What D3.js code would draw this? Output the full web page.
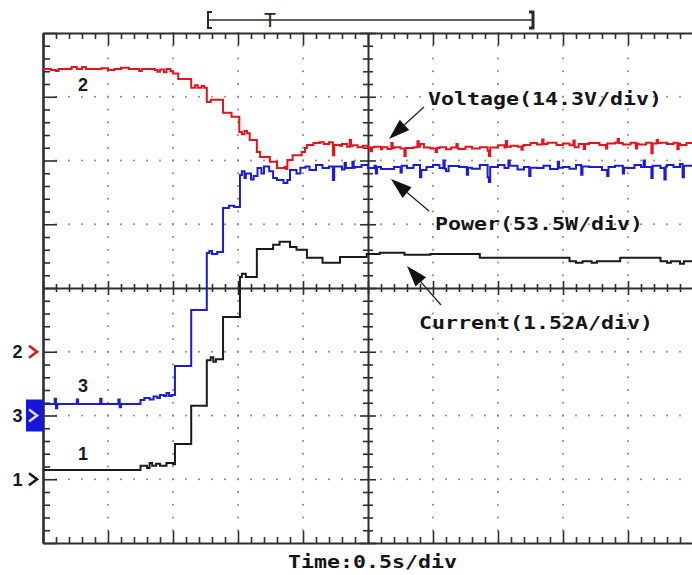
<!DOCTYPE html>
<html>
<head>
<meta charset="utf-8">
<script src="https://cdn.jsdelivr.net/npm/d3@7"></script>
<style>
  html, body { margin: 0; padding: 0; background: #fff; }
  svg { display: block; }
  .mono { font-family: "DejaVu Sans Mono", monospace; font-weight: bold; font-size: 18px; fill: #151515; }
  .digit { font-family: "Liberation Sans", Arial, sans-serif; font-weight: bold; font-size: 18px; fill: #1a1a1a; }
</style>
</head>
<body>
<svg id="scope" width="692" height="575"></svg>
<script>
// ---- Recorded traces: [time (s), value] ----
const voltage = [ // V, channel 2
  [0, 63.4], [0.06, 63.2], [0.1, 63.0], [0.12, 63.4], [0.22, 63.9], [0.26, 63.4], [0.3, 63.9],
  [0.33, 63.4], [0.45, 63.6], [0.5, 63.2], [0.55, 63.4], [0.6, 63.7], [0.66, 63.4], [0.74, 63.0],
  [0.76, 63.4], [0.86, 63.2], [0.88, 62.8], [0.9, 63.3], [0.93, 62.7], [0.95, 63.4], [0.98, 62.9],
  [1.0, 62.4], [1.04, 61.2], [1.14, 59.2], [1.17, 59.8], [1.19, 59.2], [1.22, 59.6], [1.24, 59.2],
  [1.26, 56.0], [1.29, 56.5], [1.385, 53.6], [1.45, 52.7], [1.51, 49.3], [1.53, 48.8], [1.55, 49.5],
  [1.57, 49.0], [1.59, 47.5], [1.645, 44.8], [1.67, 43.7], [1.745, 42.6], [1.8, 41.2], [1.86, 41.5],
  [1.87, 41.0], [1.88, 43.0], [1.92, 44.1], [1.99, 44.8], [2.015, 45.7], [2.03, 46.4], [2.08, 46.8],
  [2.13, 47.0], [2.16, 46.6], [2.2, 47.0], [2.23, 44.1], [2.24, 46.4], [2.285, 46.2], [2.3, 46.6],
  [2.34, 46.0], [2.36, 47.5], [2.37, 46.1], [2.38, 46.3], [2.42, 45.9], [2.46, 46.2], [2.5, 45.8],
  [2.52, 45.0], [2.53, 45.9], [2.55, 46.0], [2.6, 45.4], [2.61, 45.9], [2.65, 45.5], [2.68, 46.8],
  [2.69, 45.7], [2.7, 45.9], [2.75, 45.6], [2.78, 43.9], [2.79, 45.7], [2.85, 45.9], [2.88, 47.2],
  [2.89, 46.0], [2.9, 46.6], [2.93, 45.8], [2.98, 45.6], [3.02, 44.8], [3.03, 45.7], [3.05, 45.9],
  [3.1, 45.4], [3.14, 45.8], [3.18, 46.6], [3.19, 45.6], [3.2, 45.5], [3.25, 46.0], [3.3, 45.6],
  [3.36, 45.9], [3.42, 45.1], [3.43, 43.9], [3.44, 45.8], [3.5, 46.3], [3.55, 45.8], [3.56, 47.3],
  [3.57, 46.0], [3.6, 46.2], [3.65, 46.0], [3.68, 45.3], [3.69, 46.2], [3.7, 46.4], [3.75, 46.8],
  [3.8, 46.5], [3.84, 47.6], [3.85, 46.6], [3.88, 46.9], [3.95, 46.4], [4.0, 46.7], [4.05, 46.3],
  [4.08, 47.4], [4.09, 45.9], [4.12, 46.6], [4.16, 45.5], [4.17, 46.6], [4.2, 46.8], [4.28, 46.4],
  [4.33, 45.6], [4.34, 46.7], [4.4, 46.9], [4.42, 47.7], [4.43, 46.8], [4.46, 46.5], [4.52, 46.9],
  [4.56, 45.6], [4.57, 46.7], [4.58, 46.5], [4.64, 46.9], [4.68, 44.5], [4.69, 46.7], [4.72, 47.5],
  [4.73, 46.8], [4.75, 46.9], [4.8, 46.6], [4.85, 46.9], [4.88, 45.4], [4.89, 46.7], [4.9, 46.4],
  [4.95, 46.8], [5.0, 46.7]
];

const power = [ // W, channel 3
  [0, 9.7], [0.09, 14.0], [0.1, 6.0], [0.11, 9.7], [0.26, 13.5], [0.27, 9.7], [0.44, 14.0],
  [0.45, 9.7], [0.58, 13.5], [0.59, 7.0], [0.6, 9.7], [0.75, 13.0], [0.78, 14.7], [0.82, 13.5],
  [0.85, 16.0], [0.88, 14.7], [0.9, 17.2], [0.93, 16.4], [0.95, 18.9], [0.97, 16.4], [0.99, 17.2],
  [1.015, 41.5], [1.14, 88.5], [1.26, 136.4], [1.28, 138.0], [1.3, 135.5], [1.34, 137.2],
  [1.385, 174.1], [1.43, 176.0], [1.47, 175.0], [1.515, 201.8], [1.53, 205.0], [1.55, 199.3],
  [1.56, 203.0], [1.6, 198.0], [1.62, 201.0], [1.65, 207.7], [1.68, 203.0], [1.7, 209.0],
  [1.74, 205.0], [1.77, 199.3], [1.8, 197.6], [1.85, 195.1], [1.88, 197.6], [1.9, 206.0],
  [1.95, 203.0], [1.98, 208.0], [2.02, 209.0], [2.05, 206.0], [2.1, 210.2], [2.15, 207.7],
  [2.2, 209.0], [2.23, 197.6], [2.24, 209.0], [2.3, 206.5], [2.32, 212.0], [2.33, 207.7],
  [2.38, 213.0], [2.39, 208.0], [2.4, 208.5], [2.45, 210.2], [2.5, 207.7], [2.55, 209.5],
  [2.56, 203.0], [2.57, 208.5], [2.6, 206.9], [2.7, 208.5], [2.75, 204.0], [2.76, 209.5],
  [2.8, 207.7], [2.85, 210.2], [2.9, 200.0], [2.91, 206.0], [2.95, 208.5], [3.0, 210.2],
  [3.05, 207.7], [3.08, 214.0], [3.09, 207.0], [3.1, 205.0], [3.12, 209.3], [3.2, 208.5],
  [3.26, 202.0], [3.27, 208.0], [3.3, 207.0], [3.36, 210.2], [3.42, 200.0], [3.43, 196.0],
  [3.44, 208.5], [3.5, 210.2], [3.55, 207.7], [3.58, 214.0], [3.59, 209.5], [3.65, 206.5],
  [3.7, 208.5], [3.74, 201.0], [3.75, 208.0], [3.8, 207.7], [3.85, 209.5], [3.9, 206.9],
  [3.96, 213.0], [3.97, 208.0], [4.0, 208.5], [4.05, 207.0], [4.1, 210.2], [4.14, 202.0],
  [4.15, 209.0], [4.2, 208.5], [4.3, 206.0], [4.34, 201.0], [4.35, 208.5], [4.4, 209.5],
  [4.46, 203.0], [4.47, 208.0], [4.5, 207.7], [4.55, 210.2], [4.6, 208.5], [4.62, 214.0],
  [4.63, 208.5], [4.68, 199.3], [4.69, 209.5], [4.75, 207.7], [4.78, 198.0], [4.79, 209.0],
  [4.8, 210.2], [4.85, 208.5], [4.9, 211.0], [4.92, 200.0], [4.93, 209.5], [5.0, 210.2]
];

const current = [ // A, channel 1
  [0, 0.22], [0.74, 0.22], [0.75, 0.32], [0.8, 0.27], [0.82, 0.39], [0.84, 0.32], [0.87, 0.37],
  [0.9, 0.32], [0.95, 0.39], [1.0, 0.36], [1.015, 0.84], [1.14, 1.75], [1.26, 2.84], [1.29, 2.91],
  [1.31, 2.80], [1.33, 2.86], [1.385, 3.87], [1.515, 4.82], [1.53, 4.90], [1.56, 4.82],
  [1.645, 5.49], [1.77, 5.59], [1.82, 5.66], [1.9, 5.54], [1.95, 5.47], [2.03, 5.28],
  [2.15, 5.16], [2.285, 5.30], [2.49, 5.37], [2.59, 5.40], [2.78, 5.35], [2.98, 5.37],
  [3.36, 5.28], [4.05, 5.20], [4.1, 5.16], [4.15, 5.20], [4.22, 5.16], [4.26, 5.20],
  [4.44, 5.28], [4.75, 5.20], [4.8, 5.16], [4.83, 5.20], [4.9, 5.14], [4.93, 5.20], [5.0, 5.20]
];

// ---- Channel settings ----
const channelIds   = ["1", "2", "3"];
const channelUnits = [1.52, 14.3, 53.5];   // A/div, V/div, W/div
const channelZero  = [1, 3, 2];            // ground reference, divisions from bottom
const channelColor = ["#1a1a1a", "#e3141c", "#1c1cd6"];

const annotationTexts = ["Voltage(14.3V/div)", "Power(53.5W/div)", "Current(1.52A/div)"];
const timeLabel = "Time:0.5s/div";
const triggerMark = "T";

// ---- Frame geometry ----
const plotLeft = 43, plotTop = 33, plotW = 650, plotH = 510;
const xDivs = 10, yDivs = 8, minorPerDiv = 5, secPerDiv = 0.5;

const svg = d3.select("#scope");

const x = d3.scaleLinear().domain([0, xDivs * secPerDiv]).range([plotLeft, plotLeft + plotW]);
const xd = d3.scaleLinear().domain([0, xDivs]).range([plotLeft, plotLeft + plotW]);
const yd = d3.scaleLinear().domain([0, yDivs]).range([plotTop + plotH, plotTop]);

svg.append("defs").append("clipPath").attr("id", "plotClip")
  .append("rect").attr("x", plotLeft).attr("y", plotTop - 2).attr("width", plotW).attr("height", plotH + 4);

// ---- dotted graticule ----
const minorX = d3.range(0, xDivs * minorPerDiv + 1).map(i => i / minorPerDiv);
const minorY = d3.range(0, yDivs * minorPerDiv + 1).map(i => i / minorPerDiv);
const majorX = d3.range(1, xDivs).filter(d => d !== xDivs / 2);
const majorY = d3.range(1, yDivs).filter(d => d !== yDivs / 2);

const dots = [];
majorX.forEach(k => minorY.forEach(v => dots.push([xd(k), yd(v)])));
majorY.forEach(k => minorX.forEach(v => dots.push([xd(v), yd(k)])));
svg.append("g").attr("clip-path", "url(#plotClip)")
  .selectAll("rect").data(dots).join("rect")
  .attr("x", d => d[0] - 0.9).attr("y", d => d[1] - 0.9)
  .attr("width", 1.8).attr("height", 1.8).attr("fill", "#8c8c8c");

// ---- border and centre axes with tick marks ----
const minorTicksX = minorX.filter(v => v % 1 !== 0);
const majorTicksX = d3.range(0, xDivs + 1);
const minorTicksY = minorY.filter(v => v % 1 !== 0);
const majorTicksY = d3.range(0, yDivs + 1);

function addAxis(axisFn, scale, values, size, transform, domainWidth) {
  const g = svg.append("g").attr("transform", transform)
    .call(axisFn(scale).tickValues(values).tickSize(size).tickSizeOuter(0).tickFormat(""));
  g.selectAll("text").remove();
  g.selectAll(".tick line").attr("stroke", "#2e2e2e").attr("stroke-width", 1.6);
  if (domainWidth) {
    g.select("path.domain").attr("stroke", "#2e2e2e").attr("stroke-width", domainWidth);
  } else {
    g.select("path.domain").remove();
  }
  return g;
}
// top border (ticks inward)
addAxis(d3.axisBottom, xd, minorTicksX, 6, `translate(0,${plotTop})`, 2.2);
addAxis(d3.axisBottom, xd, majorTicksX, 12, `translate(0,${plotTop})`, 0);
// bottom border
addAxis(d3.axisTop, xd, minorTicksX, 6, `translate(0,${plotTop + plotH})`, 2.2);
addAxis(d3.axisTop, xd, majorTicksX, 12, `translate(0,${plotTop + plotH})`, 0);
// left border
addAxis(d3.axisRight, yd, minorTicksY, 7, `translate(${plotLeft},0)`, 2.6);
addAxis(d3.axisRight, yd, majorTicksY, 14, `translate(${plotLeft},0)`, 0);
// centre vertical axis
const cx = xd(xDivs / 2), cy = yd(yDivs / 2);
addAxis(d3.axisRight, yd, minorTicksY, 5, `translate(${cx},0)`, 2);
addAxis(d3.axisLeft, yd, minorTicksY, 5, `translate(${cx},0)`, 0);
addAxis(d3.axisRight, yd, majorTicksY, 8, `translate(${cx},0)`, 0);
addAxis(d3.axisLeft, yd, majorTicksY, 8, `translate(${cx},0)`, 0);
// centre horizontal axis
addAxis(d3.axisBottom, xd, minorTicksX, 4, `translate(0,${cy})`, 2);
addAxis(d3.axisTop, xd, minorTicksX, 4, `translate(0,${cy})`, 0);
addAxis(d3.axisBottom, xd, majorTicksX, 7, `translate(0,${cy})`, 0);
addAxis(d3.axisTop, xd, majorTicksX, 7, `translate(0,${cy})`, 0);

// ---- traces ----
const series = [current, voltage, power];
const drawOrder = [0, 2, 1];
const traceG = svg.append("g").attr("clip-path", "url(#plotClip)");
drawOrder.forEach(i => {
  const line = d3.line()
    .x(d => x(d[0]))
    .y(d => yd(channelZero[i] + d[1] / channelUnits[i]))
    .curve(d3.curveStepAfter);
  traceG.append("path").datum(series[i])
    .attr("d", line).attr("fill", "none")
    .attr("stroke", channelColor[i]).attr("stroke-width", 2)
    .attr("stroke-linejoin", "miter");
});

// ---- trace numbers inside the screen ----
const traceNumberPos = [[83, 460], [83, 91], [83, 392]];
channelIds.forEach((id, i) => {
  svg.append("text").attr("class", "digit")
    .attr("x", traceNumberPos[i][0]).attr("y", traceNumberPos[i][1])
    .attr("text-anchor", "middle").text(id);
});

// ---- ground reference markers on the left ----
channelIds.forEach((id, i) => {
  const gy = yd(channelZero[i]);
  svg.append("text").attr("class", "digit")
    .attr("x", 17.5).attr("y", gy + 6.5).attr("text-anchor", "middle").text(id);
  let chevronColor = i === 1 ? channelColor[1] : "#1a1a1a";
  if (i === 2) {
    svg.append("rect").attr("x", 26).attr("y", gy - 16).attr("width", 17).attr("height", 32)
      .attr("fill", "#1414dc");
    chevronColor = "#d8dcff";
  }
  svg.append("path")
    .attr("d", `M29,${gy - 6} L37,${gy} L29,${gy + 6}`)
    .attr("fill", "none").attr("stroke", chevronColor).attr("stroke-width", 2.6);
});

// ---- annotations with arrows ----
function arrow(tail, tip) {
  const ang = Math.atan2(tip[1] - tail[1], tip[0] - tail[0]);
  const len = 21, half = 7;
  const bx = tip[0] - len * Math.cos(ang), by = tip[1] - len * Math.sin(ang);
  const px = -Math.sin(ang) * half, py = Math.cos(ang) * half;
  svg.append("line").attr("x1", tail[0]).attr("y1", tail[1]).attr("x2", bx).attr("y2", by)
    .attr("stroke", "#222").attr("stroke-width", 1.3);
  svg.append("path")
    .attr("d", `M${tip[0]},${tip[1]} L${bx + px},${by + py} L${bx - px},${by - py} Z`)
    .attr("fill", "#111");
}
const annoBox = [[428, 105, 234], [435, 230, 208], [419, 329, 234]];
annotationTexts.forEach((t, i) => {
  svg.append("text").attr("class", "mono")
    .attr("x", annoBox[i][0]).attr("y", annoBox[i][1])
    .attr("textLength", annoBox[i][2]).attr("lengthAdjust", "spacingAndGlyphs").text(t);
});
arrow([424, 107], [389, 139]);
arrow([429, 211], [391, 179]);
arrow([441, 305], [407, 266]);

svg.append("text").attr("class", "mono")
  .attr("x", 288).attr("y", 568).attr("textLength", 169).attr("lengthAdjust", "spacingAndGlyphs")
  .text(timeLabel);

// ---- trigger window bracket above the screen ----
const br = svg.append("g").attr("stroke", "#2a2a2a").attr("fill", "none");
br.append("line").attr("x1", 208).attr("x2", 533).attr("y1", 20).attr("y2", 20).attr("stroke-width", 1.3);
br.append("path").attr("d", "M212,12 L208,12 L208,28 L212,28").attr("stroke-width", 2);
br.append("path").attr("d", "M529,12 L533,12 L533,28 L529,28").attr("stroke-width", 3);
svg.append("text").attr("x", 270).attr("y", 27).attr("text-anchor", "middle")
  .attr("font-family", "DejaVu Sans Mono, monospace").attr("font-size", 20).attr("fill", "#2a2a2a")
  .text(triggerMark);
</script>
</body>
</html>
